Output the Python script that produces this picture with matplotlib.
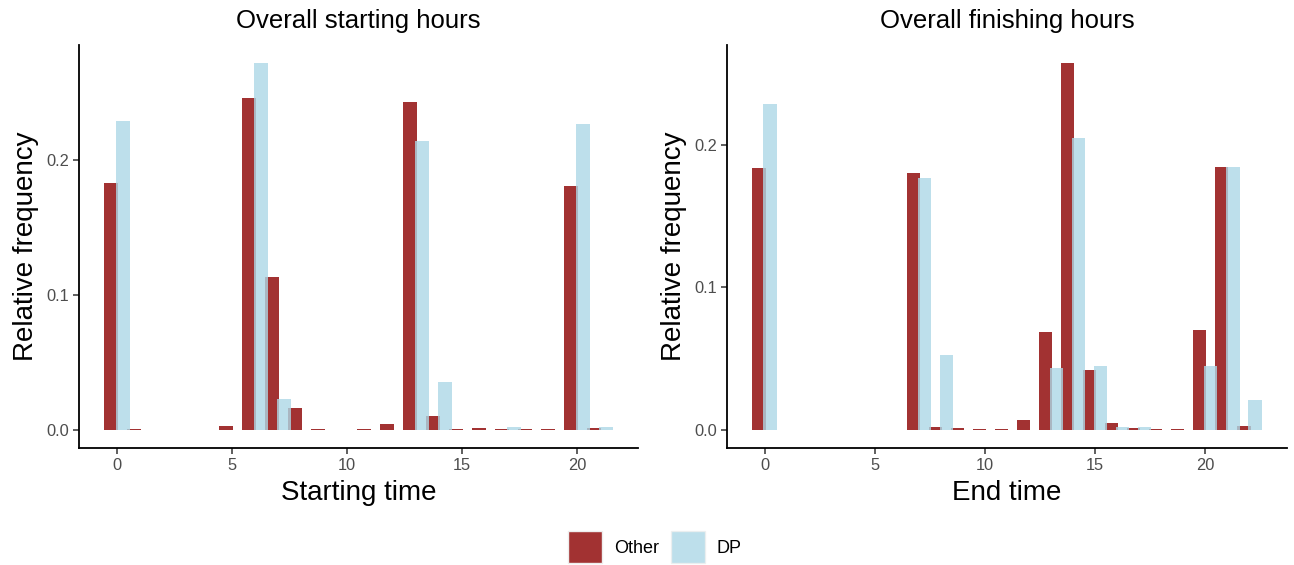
import numpy as np
import matplotlib
matplotlib.use("Agg")
from matplotlib import pyplot as plt
from matplotlib.patches import Patch

plt.rcParams['font.family'] = ['Liberation Sans', 'DejaVu Sans']

hours = np.arange(24)

# starting hours (relative frequency)
other_start = [0.183, 0.0008, 0, 0, 0, 0.0027, 0.2455, 0.1134, 0.016, 0.0008, 0, 0.0008,
               0.0042, 0.2426, 0.0101, 0.0008, 0.0013, 0.0008, 0.0008, 0.0008, 0.1806, 0.0013, 0, 0]
dp_start = [0.2286, 0, 0, 0, 0, 0, 0.2714, 0.0227, 0, 0, 0, 0,
            0, 0.2138, 0.0352, 0, 0, 0.002, 0, 0, 0.2263, 0.002, 0, 0]

# finishing hours (relative frequency)
other_end = [0.1837, 0, 0, 0, 0, 0, 0, 0.1802, 0.0019, 0.0012, 0.0007, 0.0007,
             0.0068, 0.0683, 0.2571, 0.0417, 0.0047, 0.0012, 0.0007, 0.0007, 0.0697, 0.1844, 0.0026, 0]
dp_end = [0.2285, 0, 0, 0, 0, 0, 0, 0.1767, 0.0522, 0, 0, 0,
          0, 0.0431, 0.2047, 0.0445, 0.0019, 0.0019, 0, 0, 0.0445, 0.1844, 0.0208, 0]

titles = ['Overall starting hours', 'Overall finishing hours']
xlabels = ['Starting time', 'End time']
groups = ['Other', 'DP']

red = '#A23232'
blue = '#ADD8E6'
grey = '#4D4D4D'
bw = 0.6
off = 0.25

fig = plt.figure(figsize=(12.94, 5.65), dpi=100)
W, H = 1294, 565
boxes = [(79, 638), (727, 1287)]
top, bottom = 45, 448

panels = [(other_start, dp_start), (other_end, dp_end)]
for i in range(2):
    l, r = boxes[i]
    ax = fig.add_axes([l / W, (H - bottom) / H, (r - l) / W, (bottom - top) / H])
    oth, dp = panels[i]
    oth = np.array(oth)
    dp = np.array(dp)
    ax.bar(hours - off, oth, width=bw, color=red, linewidth=0)
    ax.bar(hours + off, dp, width=bw, color=blue, alpha=0.8, linewidth=0)
    # ggplot-like 5% expansion
    used = hours[(oth > 0) | (dp > 0)]
    x0 = used.min() - off - bw / 2
    x1 = used[dp[used] > 0].max() + off + bw / 2 if dp[used].max() > 0 else used.max()
    x1 = max(x1, used.max() - off + bw / 2)
    dx = (x1 - x0) * 0.05
    ax.set_xlim(x0 - dx, x1 + dx)
    ymax = max(oth.max(), dp.max())
    ax.set_ylim(-0.05 * ymax, 1.05 * ymax)
    ax.set_xticks([0, 5, 10, 15, 20])
    ax.set_yticks([0.0, 0.1, 0.2])
    ax.set_yticklabels(['0.0', '0.1', '0.2'])
    ax.tick_params(colors=grey, labelsize=11.8, length=4, width=1.1, pad=3)
    ax.tick_params(axis='both', labelcolor=grey, color='#333333')
    for s in ['top', 'right']:
        ax.spines[s].set_visible(False)
    for s in ['left', 'bottom']:
        ax.spines[s].set_linewidth(1.3)
        ax.spines[s].set_color('black')
    ax.set_title(titles[i], fontsize=18.5, pad=12)
    ax.set_xlabel(xlabels[i], fontsize=20, labelpad=5)
    ax.set_ylabel('Relative frequency', fontsize=20, labelpad=5)

handles = [Patch(facecolor=red, edgecolor='#EEEEEE', linewidth=1),
           Patch(facecolor=blue, alpha=0.8, edgecolor='#EEEEEE', linewidth=1)]
fig.legend(handles, groups, loc='center', bbox_to_anchor=(655 / W, 1 - 547 / H), ncol=2,
           frameon=False, fontsize=13, handlelength=1.9, handleheight=2.4,
           handletextpad=0.65, columnspacing=0.65)

fig.savefig('out.png', dpi=100)
